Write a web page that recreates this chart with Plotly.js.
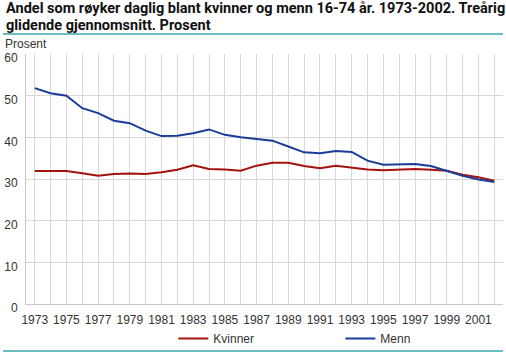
<!DOCTYPE html>
<html><head><meta charset="utf-8">
<script src="https://cdn.plot.ly/plotly-3.0.1.min.js"></script>
<style>html,body{margin:0;padding:0;background:#fff}#c{width:506px;height:353px}</style>
</head><body><div id="c"></div>
<script>
const years = [1973,1974,1975,1976,1977,1978,1979,1980,1981,1982,1983,1984,1985,1986,1987,1988,1989,1990,1991,1992,1993,1994,1995,1996,1997,1998,1999,2000,2001,2002];
const kvinner = [31.9,31.9,31.9,31.4,30.8,31.2,31.3,31.2,31.6,32.2,33.3,32.4,32.3,32.0,33.2,33.9,33.9,33.1,32.6,33.2,32.8,32.3,32.1,32.3,32.4,32.2,32.0,31.0,30.4,29.6];
const menn = [51.8,50.6,50.0,47.0,45.8,44.0,43.4,41.6,40.3,40.4,41.0,41.9,40.6,40.0,39.6,39.2,37.8,36.4,36.2,36.7,36.5,34.4,33.4,33.5,33.6,33.1,32.0,30.8,29.9,29.3];
const seriesNames = ["Kvinner","Menn"];
const xTickVals = years;
const xTickText = years.map(y => (y % 2 === 1 ? String(y) : ""));
const titleLine1 = "Andel som røyker daglig blant kvinner og menn 16-74 år. 1973-2002. Treårig";
const titleLine2 = "glidende gjennomsnitt. Prosent";
const unitLabel = "Prosent";

const font = "'Liberation Sans', Arial, sans-serif";
const titleFont = {family: "Roboto, 'Liberation Sans', Arial, sans-serif", size: 14.5, color: "#111", weight: "bold"};
const PT = 54, PB = 304, PL = 26, PR = 503;
const py = v => (PB - v) / (PB - PT);
const px = v => (v - PL) / (PR - PL);
const traces = [
  {x: years, y: kvinner, name: seriesNames[0], type: "scatter", mode: "lines", line: {color: "#a5120e", width: 2}},
  {x: years, y: menn, name: seriesNames[1], type: "scatter", mode: "lines", line: {color: "#1b3c98", width: 2}}
];
const layout = {
  width: 506, height: 353,
  margin: {l: PL, r: 506 - PR, t: PT, b: 353 - PB, autoexpand: false},
  paper_bgcolor: "#fff", plot_bgcolor: "#fff",
  font: {family: font, size: 12, color: "#333"},
  xaxis: {range: [1972.45, 2002.55], tickvals: xTickVals, ticktext: xTickText, showgrid: true, gridcolor: "#d9d9d9", gridwidth: 1,
          zeroline: false, showline: true, linecolor: "#c8c8c8", ticks: "", ticklabelstandoff: 5, tickfont: {size: 12, color: "#333"}, fixedrange: true},
  yaxis: {range: [0, 60], dtick: 10, showgrid: true, gridcolor: "#d9d9d9", gridwidth: 1, zeroline: false, showline: true,
          linecolor: "#c8c8c8", ticks: "", ticklabelstandoff: 5, ticklabelshift: 4, tickfont: {size: 12, color: "#333"}, fixedrange: true},
  showlegend: true,
  legend: {orientation: "h", x: 0.659, xanchor: "center", y: -0.08, yanchor: "top", font: {size: 12, color: "#333"}, bgcolor: "rgba(0,0,0,0)",
           entrywidth: 122, itemwidth: 30, traceorder: "normal"},
  annotations: [
    {text: titleLine1, xref: "paper", yref: "paper", x: px(4), xanchor: "left", y: py(8.5), yanchor: "middle", showarrow: false, font: titleFont},
    {text: titleLine2, xref: "paper", yref: "paper", x: px(4), xanchor: "left", y: py(25.5), yanchor: "middle", showarrow: false, font: titleFont},
    {text: unitLabel, xref: "paper", yref: "paper", x: px(3), xanchor: "left", y: py(44), yanchor: "middle", showarrow: false, font: {size: 12, color: "#333"}}
  ],
  shapes: [
    {type: "line", xref: "paper", yref: "paper", x0: px(3), x1: 1, y0: py(34), y1: py(34), line: {color: "#3aa9aa", width: 1.5}},
    {type: "line", xref: "paper", yref: "paper", x0: px(3), x1: 1, y0: py(351), y1: py(351), line: {color: "#3aa9aa", width: 1.5}}
  ]
};
Plotly.newPlot("c", traces, layout, {staticPlot: true, displayModeBar: false});
</script></body></html>
